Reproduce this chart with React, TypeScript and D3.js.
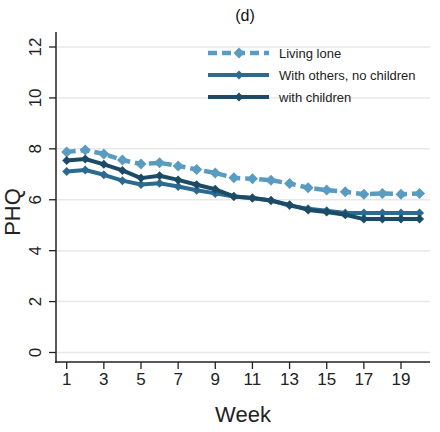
import React from "react";
import * as d3 from "d3";

const weeks = d3.range(1, 21);
const livingAlone = [7.88, 7.95, 7.8, 7.56, 7.4, 7.45, 7.33, 7.19, 7.05, 6.86, 6.82, 6.77, 6.64, 6.47, 6.38, 6.31, 6.22, 6.25, 6.22, 6.25];
const withOthers = [7.11, 7.17, 6.98, 6.75, 6.6, 6.65, 6.52, 6.37, 6.25, 6.13, 6.07, 5.97, 5.77, 5.65, 5.57, 5.48, 5.48, 5.48, 5.48, 5.48];
const withChildren = [7.54, 7.6, 7.39, 7.15, 6.85, 6.94, 6.78, 6.59, 6.41, 6.13, 6.07, 5.97, 5.8, 5.6, 5.52, 5.41, 5.24, 5.24, 5.24, 5.24];
const yTicks = [0, 2, 4, 6, 8, 10, 12];
const xTicks = [1, 3, 5, 7, 9, 11, 13, 15, 17, 19];
const seriesNames = ["Living lone", "With others, no children", "with children"];

const FONT = "'Liberation Sans', Arial, sans-serif";

export default function App() {
  const W = 440, H = 432;
  const x = d3.scaleLinear().domain([1, 19]).range([66.7, 401]);
  const y = d3.scaleLinear().domain([0, 12]).range([352.5, 47]);
  const line = d3.line<number>().x((_, i) => x(weeks[i])).y((v) => y(v));

  const series = [
    { name: seriesNames[0], data: livingAlone, color: "#5a9cc0", dash: "9 5", width: 4.5, m: 5.5 },
    { name: seriesNames[1], data: withOthers, color: "#2c6b90", dash: undefined, width: 4, m: 4.5 },
    { name: seriesNames[2], data: withChildren, color: "#1c4b67", dash: undefined, width: 4, m: 4.5 },
  ];

  const diamond = (cx: number, cy: number, r: number) =>
    `M${cx},${cy - r}L${cx + r},${cy}L${cx},${cy + r}L${cx - r},${cy}Z`;

  const legendY = [53, 75, 97];

  return (
    <svg width={W} height={H} style={{ position: "absolute", left: 0, top: 0, background: "#fff" }} fontFamily={FONT}>
      <rect width={W} height={H} fill="#fff" />
      <text x={245} y={21} textAnchor="middle" fontSize={16} fill="#111">(d)</text>
      {yTicks.map((t) => (
        <g key={t}>
          <line x1={57} x2={430} y1={y(t)} y2={y(t)} stroke="#e8e8e8" strokeWidth={1.5} />
          <line x1={49} x2={56} y1={y(t)} y2={y(t)} stroke="#222" strokeWidth={1.3} />
          <text transform={`translate(41,${y(t)}) rotate(-90)`} textAnchor="middle" fontSize={17} fill="#222">{t}</text>
        </g>
      ))}
      <line x1={56} x2={56} y1={32} y2={363} stroke="#222" strokeWidth={1.5} />
      <line x1={55} x2={430} y1={362} y2={362} stroke="#222" strokeWidth={1.5} />
      {xTicks.map((t) => (
        <g key={t}>
          <line x1={x(t)} x2={x(t)} y1={362} y2={369} stroke="#222" strokeWidth={1.3} />
          <text x={x(t)} y={385} textAnchor="middle" fontSize={17} fill="#222">{t}</text>
        </g>
      ))}
      <text x={243} y={422} textAnchor="middle" fontSize={22} fill="#222">Week</text>
      <text transform={`translate(20,212) rotate(-90)`} textAnchor="middle" fontSize={22} fill="#222">PHQ</text>

      {series.map((s) => (
        <g key={s.name}>
          <path d={line(s.data) || ""} fill="none" stroke={s.color} strokeWidth={s.width} strokeDasharray={s.dash} strokeLinejoin="round" />
          {s.data.map((v, i) => (
            <path key={i} d={diamond(x(weeks[i]), y(v), s.m)} fill={s.color} />
          ))}
        </g>
      ))}

      {series.map((s, i) => (
        <g key={"l" + s.name}>
          <line x1={208} x2={269} y1={legendY[i]} y2={legendY[i]} stroke={s.color} strokeWidth={s.width} strokeDasharray={s.dash} />
          <path d={diamond(239, legendY[i], s.m)} fill={s.color} />
          <text x={279} y={legendY[i] + 4.5} fontSize={13} fill="#222">{s.name}</text>
        </g>
      ))}
    </svg>
  );
}
